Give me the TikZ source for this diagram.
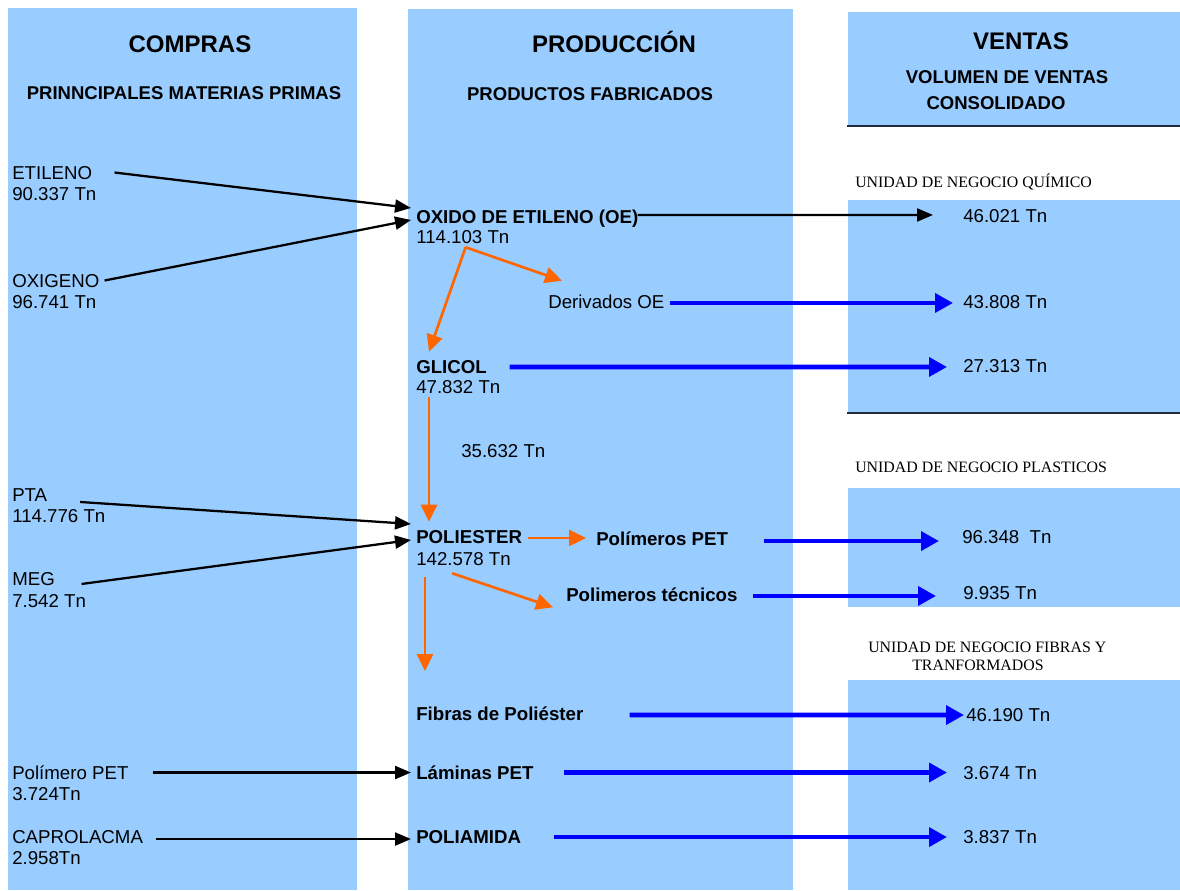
\documentclass[tikz,border=0pt]{standalone}
\usepackage{fontspec}
\setmainfont{Liberation Sans}
\newfontfamily\romfont{Liberation Serif}
\usetikzlibrary{arrows.meta}
\definecolor{celeste}{HTML}{99CCFF}
\definecolor{naranja}{HTML}{FF6600}
\definecolor{linea}{HTML}{1F2B3F}

\begin{document}
\begin{tikzpicture}[x=0.75pt,y=-0.75pt,
  txt/.style={anchor=base west,inner sep=0pt,text height=9.75pt,text depth=0pt,font=\fontsize{14}{16}\selectfont},
  neg/.style={txt,font=\fontsize{14}{16}\selectfont\bfseries},
  titulo/.style={anchor=base,inner sep=0pt,font=\fontsize{18}{22}\selectfont\bfseries},
  subtit/.style={anchor=base,inner sep=0pt,font=\fontsize{13.9}{17}\selectfont\bfseries},
  unidad/.style={anchor=base west,inner sep=0pt,font=\fontsize{11.9}{14}\selectfont\romfont},
  blk/.style={-{Triangle[length=12pt,width=9.75pt]},line width=1.7pt},
  azul/.style={-{Triangle[length=13.5pt,width=14pt]},line width=3.5pt,blue},
  nar/.style={-{Triangle[length=12.75pt,width=12pt]},line width=2pt,naranja}]
\useasboundingbox (0,0) rectangle (1180,890);
% columnas
\fill[celeste] (8,8) rectangle (357,890);
\fill[celeste] (408,9) rectangle (793,890);
\fill[celeste] (848,12) rectangle (1180,126);
\fill[celeste] (848,200) rectangle (1180,413);
\fill[celeste] (848,488) rectangle (1180,607);
\fill[celeste] (848,680) rectangle (1180,890);
\draw[linea,line width=1.1pt] (847,126) -- (1180,126);
\draw[linea,line width=1.1pt] (847,413) -- (1180,413);

% titulos
\node[titulo] (compras) at (190,52) {COMPRAS};
\node[subtit] (primas) at (184,99) {PRINNCIPALES MATERIAS PRIMAS};
\node[titulo] (produccion) at (614,52) {PRODUCCIÓN};
\node[subtit] (fabricados) at (590,100) {PRODUCTOS FABRICADOS};
\node[titulo] (ventas) at (1021,49) {VENTAS};
\node[subtit] (volumen) at (1007,83) {VOLUMEN DE VENTAS};
\node[subtit] (consolidado) at (996,109) {CONSOLIDADO};

% compras
\node[txt] (etileno) at (12,179) {ETILENO};
\node[txt] (etilenoT) at (12,200) {90.337 Tn};
\node[txt] (oxigeno) at (12,287) {OXIGENO};
\node[txt] (oxigenoT) at (12,308) {96.741 Tn};
\node[txt] (pta) at (12,501) {PTA};
\node[txt] (ptaT) at (12,522) {114.776 Tn};
\node[txt] (meg) at (12,585) {MEG};
\node[txt] (megT) at (12,607) {7.542 Tn};
\node[txt] (polpet) at (12,779) {Polímero PET};
\node[txt] (polpetT) at (12,800) {3.724Tn};
\node[txt] (capro) at (12,843) {CAPROLACMA};
\node[txt] (caproT) at (12,864) {2.958Tn};

% produccion
\node[neg] (oe) at (416,223) {OXIDO DE ETILENO (OE)};
\node[txt] (oeT) at (416,243) {114.103 Tn};
\node[txt] (deriv) at (548,308) {Derivados OE};
\node[neg] (glicol) at (416,373) {GLICOL};
\node[txt] (glicolT) at (416,393) {47.832 Tn};
\node[txt] (paso) at (461,457) {35.632 Tn};
\node[neg] (poli) at (416,543) {POLIESTER};
\node[txt] (poliT) at (416,565) {142.578 Tn};
\node[neg] (pet) at (596,545) {Polímeros PET};
\node[neg] (tec) at (566,601) {Polimeros técnicos};
\node[neg] (fibras) at (416,720) {Fibras de Poliéster};
\node[neg] (laminas) at (416,779) {Láminas PET};
\node[neg] (poliamida) at (416,843) {POLIAMIDA};
\coordinate (fibrasIn) at (425,671);

% ventas
\node[unidad] (quimico) at (855,187) {UNIDAD DE NEGOCIO QUÍMICO};
\node[unidad] (plasticos) at (855,472) {UNIDAD DE NEGOCIO PLASTICOS};
\node[unidad] (fibrasU) at (868,652) {UNIDAD DE NEGOCIO FIBRAS Y};
\node[unidad] (fibrasU2) at (912,670) {TRANFORMADOS};
\node[txt] (v1) at (963,222) {46.021 Tn};
\node[txt] (v2) at (963,308) {43.808 Tn};
\node[txt] (v3) at (963,372) {27.313 Tn};
\node[txt] (v4) at (962,543) {96.348\ \ Tn};
\node[txt] (v5) at (963,599) {9.935 Tn};
\node[txt] (v6) at (966,721) {46.190 Tn};
\node[txt] (v7) at (963,779) {3.674 Tn};
\node[txt] (v8) at (963,843) {3.837 Tn};

% materias primas
\draw[blk] ([xshift=16.6pt]etileno.east) -- ([xshift=-3.75pt,yshift=6.4pt]oe.west);
\draw[blk] ([xshift=3.7pt]oxigeno.east) -- ([xshift=-3.75pt,yshift=-2.6pt]oe.west);
\draw[blk] ([xshift=24.5pt,yshift=-5.6pt]pta.east) -- ([xshift=-3.75pt,yshift=9.4pt]poli.west);
\draw[blk] ([xshift=19.9pt,yshift=-4.1pt]meg.east) -- ([xshift=-3.75pt,yshift=-2.6pt]poli.west);
\draw[blk] ([xshift=17.9pt]polpet.east) -- ([xshift=-3.75pt]laminas.west);
\draw[blk] ([xshift=9.25pt,yshift=-1.9pt]capro.east) -- ([xshift=-3.75pt,yshift=-1.9pt]poliamida.west);
\draw[blk] ([xshift=-0.6pt,yshift=1.1pt]oe.east) -- ([xshift=-22.5pt,yshift=0.4pt]v1.west);

% procesos
\draw[nar] ([xshift=2.1pt,yshift=-3pt]oeT.south) -- ([xshift=10.5pt,yshift=10.5pt]deriv.north west);
\draw[nar] ([xshift=2.1pt,yshift=-3pt]oeT.south) -- ([xshift=9.75pt,yshift=6pt]glicol.north west);
\draw[nar] ([xshift=9.75pt,yshift=-3pt]glicolT.south west) -- ([xshift=9.75pt,yshift=6pt]poli.north west);
\draw[nar] ([xshift=3.95pt,yshift=-1.1pt]poli.east) -- ([xshift=-7.5pt,yshift=0.4pt]pet.west);
\draw[nar] ([xshift=27pt,yshift=-6pt]poliT.south west) -- ([xshift=-9.75pt,yshift=-4.5pt]tec.south west);
\draw[nar] ([xshift=6.75pt,yshift=-9pt]poliT.south west) -- (fibrasIn);

% ventas
\draw[azul] ([xshift=3.65pt,yshift=-1.1pt]deriv.east) -- ([xshift=-7.5pt,yshift=-1.1pt]v2.west);
\draw[azul] ([xshift=16.85pt,yshift=-0.4pt]glicol.east) -- ([xshift=-12pt,yshift=-1.1pt]v3.west);
\draw[azul] ([xshift=26.5pt,yshift=-1.9pt]pet.east) -- ([xshift=-17.25pt,yshift=-3.4pt]v4.west);
\draw[azul] ([xshift=11.15pt,yshift=-1.1pt]tec.east) -- ([xshift=-20.25pt,yshift=-2.6pt]v5.west);
\draw[azul] ([xshift=34.5pt,yshift=-1.1pt]fibras.east) -- ([xshift=-1.5pt,yshift=-0.4pt]v6.west);
\draw[azul] ([xshift=22.4pt]laminas.east) -- ([xshift=-12pt]v7.west);
\draw[azul] ([xshift=24.2pt,yshift=-0.4pt]poliamida.east) -- ([xshift=-12pt,yshift=-0.4pt]v8.west);
\end{tikzpicture}
\end{document}
